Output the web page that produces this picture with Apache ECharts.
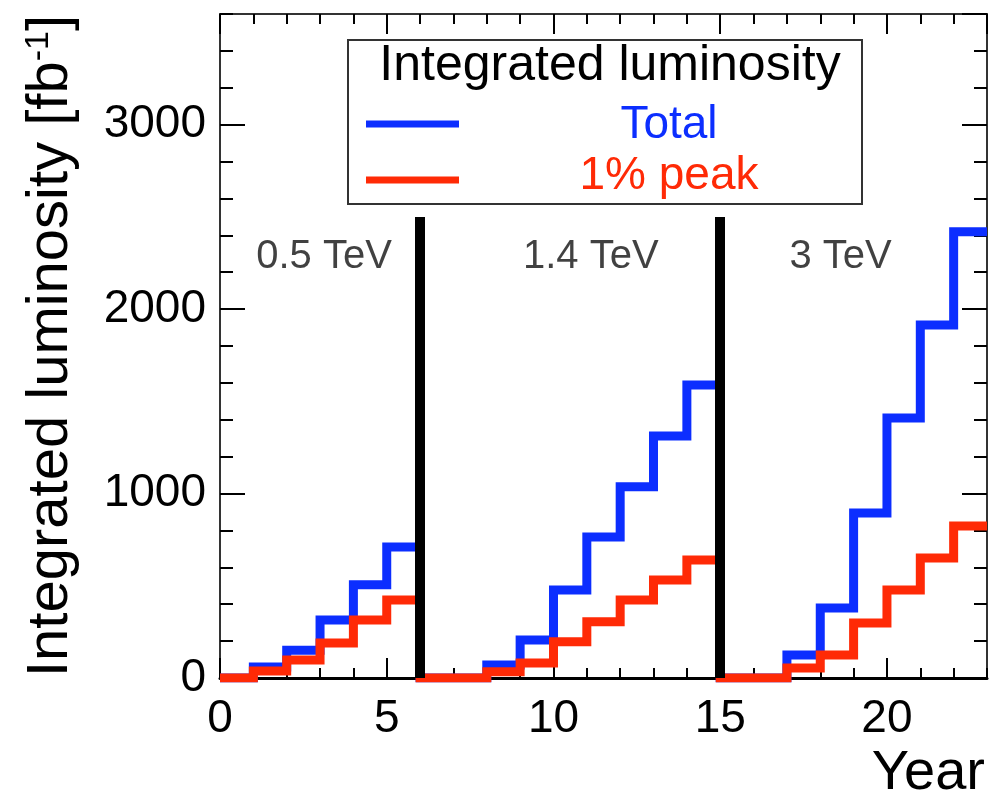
<!DOCTYPE html>
<html>
<head>
<meta charset="utf-8">
<title>Integrated luminosity</title>
<script src="https://cdn.jsdelivr.net/npm/echarts@6/dist/echarts.min.js"></script>
<style>
  html, body { margin: 0; padding: 0; background: #fff; }
  #chart { width: 990px; height: 805px; }
</style>
</head>
<body>
<div id="chart"></div>
<script>
// one value per year bin [i, i+1], fb^-1
const binEdges = [0, 1, 2, 3, 4, 5, 6, 7, 8, 9, 10, 11, 12, 13, 14, 15, 16, 17, 18, 19, 20, 21, 22, 23]
const totalLumi = [0, 60, 150, 315, 505, 710, 0, 0, 70, 206, 477, 765, 1037, 1312, 1589, 0, 0, 125, 380, 895, 1410, 1914, 2420]
const peakLumi = [0, 38, 98, 190, 315, 423, 0, 0, 34, 81, 197, 305, 423, 531, 640, 0, 0, 54, 125, 298, 477, 651, 824]

// energy stages
const stageNames = ['0.5 TeV', '1.4 TeV', '3 TeV']
const stageEnds = [6, 15]
const stageLineTop = 2500

const seriesNames = ['Total', '1% peak']
const colors = ['#0c2eff', '#ff2a06']

const font = "'Liberation Sans', Arial, Helvetica, sans-serif"

// step points: left edge of each bin, plus closing right edge
const toSteps = vals => {
  const pts = vals.map((v, i) => [binEdges[i], v])
  pts.push([binEdges[binEdges.length - 1], vals[vals.length - 1]])
  return pts
}

const tickStyle = { color: '#000', width: 2 }

const xAxisBase = {
  type: 'value', min: 0, max: 23, splitLine: { show: false },
  axisLine: { show: false, onZero: false },
  axisLabel: { show: false }
}
const yAxisBase = {
  type: 'value', min: 0, max: 3600, splitLine: { show: false },
  axisLine: { show: false, onZero: false },
  axisLabel: { show: false }
}

const chart = echarts.init(document.getElementById('chart'))

const option = {
  animation: false,
  backgroundColor: '#fff',
  grid: { left: 220, right: 3, top: 14, bottom: 127, containLabel: false },
  xAxis: [
    {
      ...xAxisBase, position: 'bottom', interval: 5,
      axisLine: { show: true, onZero: false, lineStyle: { color: '#000', width: 3 } },
      axisTick: { inside: true, length: 20, lineStyle: tickStyle },
      axisLabel: { show: true, showMaxLabel: false, fontSize: 46, color: '#000', margin: 18, fontFamily: font, formatter: v => String(v) }
    },
    { ...xAxisBase, position: 'bottom', interval: 1, axisTick: { inside: true, length: 10, lineStyle: tickStyle } },
    {
      ...xAxisBase, position: 'top', interval: 5,
      axisLine: { show: true, onZero: false, lineStyle: { color: '#333', width: 2 } },
      axisTick: { inside: true, length: 20, lineStyle: tickStyle }
    },
    { ...xAxisBase, position: 'top', interval: 1, axisTick: { inside: true, length: 10, lineStyle: tickStyle } }
  ],
  yAxis: [
    {
      ...yAxisBase, position: 'left', interval: 1000,
      axisLine: { show: true, onZero: false, lineStyle: { color: '#333', width: 2 } },
      axisTick: { inside: true, length: 25, lineStyle: tickStyle },
      axisLabel: { show: true, showMaxLabel: false, fontSize: 46, color: '#000', margin: 14, fontFamily: font, formatter: v => String(v) },
      name: 'Integrated luminosity [fb{sup|-1}]',
      nameLocation: 'middle',
      nameRotate: 90,
      nameGap: 140,
      nameTextStyle: {
        fontSize: 58, color: '#000', fontFamily: font,
        rich: { sup: { fontSize: 34, verticalAlign: 'top', fontFamily: font, color: '#000' } }
      }
    },
    { ...yAxisBase, position: 'left', interval: 200, axisTick: { inside: true, length: 13, lineStyle: tickStyle } },
    {
      ...yAxisBase, position: 'right', interval: 1000,
      axisLine: { show: true, onZero: false, lineStyle: { color: '#333', width: 2 } },
      axisTick: { inside: true, length: 25, lineStyle: tickStyle }
    },
    { ...yAxisBase, position: 'right', interval: 200, axisTick: { inside: true, length: 13, lineStyle: tickStyle } }
  ],
  series: [
    {
      name: seriesNames[0], type: 'line', step: 'end', symbol: 'none', z: 3,
      data: toSteps(totalLumi),
      lineStyle: { color: colors[0], width: 9, join: 'miter', cap: 'butt' }
    },
    {
      name: seriesNames[1], type: 'line', step: 'end', symbol: 'none', z: 4,
      data: toSteps(peakLumi),
      lineStyle: { color: colors[1], width: 9, join: 'miter', cap: 'butt' }
    },
    {
      // stage boundaries
      type: 'line', data: [], z: 5,
      markLine: {
        silent: true, symbol: ['none', 'none'], label: { show: false },
        lineStyle: { color: '#000', width: 10, type: 'solid', opacity: 1 },
        data: stageEnds.map(x => [{ coord: [x, 0] }, { coord: [x, stageLineTop] }])
      }
    },
    {
      // stage energy labels
      type: 'scatter', symbolSize: 0, z: 6, silent: true,
      data: [
        { name: stageNames[0], value: [3.12, 2283] },
        { name: stageNames[1], value: [11.12, 2283] },
        { name: stageNames[2], value: [18.61, 2283] }
      ],
      label: {
        show: true, position: 'inside', formatter: p => p.name,
        fontSize: 40, color: '#111', fontFamily: font
      }
    }
  ],
  graphic: [
    {
      type: 'group', z: 100,
      children: [
        { type: 'rect', shape: { x: 348, y: 40, width: 514, height: 164 }, style: { fill: '#fff', stroke: '#333', lineWidth: 2 } },
        { type: 'text', x: 610, y: 66, style: { text: 'Integrated luminosity', font: '50px ' + font, fill: '#000', align: 'center', verticalAlign: 'middle' } },
        { type: 'line', shape: { x1: 366, y1: 124, x2: 459, y2: 124 }, style: { stroke: colors[0], lineWidth: 7 } },
        { type: 'text', x: 669, y: 125, style: { text: seriesNames[0], font: '46px ' + font, fill: colors[0], align: 'center', verticalAlign: 'middle' } },
        { type: 'line', shape: { x1: 366, y1: 180, x2: 459, y2: 180 }, style: { stroke: colors[1], lineWidth: 7 } },
        { type: 'text', x: 669, y: 176, style: { text: seriesNames[1], font: '46px ' + font, fill: colors[1], align: 'center', verticalAlign: 'middle' } }
      ]
    },
    { type: 'text', right: 5, top: 746, style: { text: 'Year', font: '56px ' + font, fill: '#000' } }
  ]
}

chart.setOption(option)
</script>
</body>
</html>
